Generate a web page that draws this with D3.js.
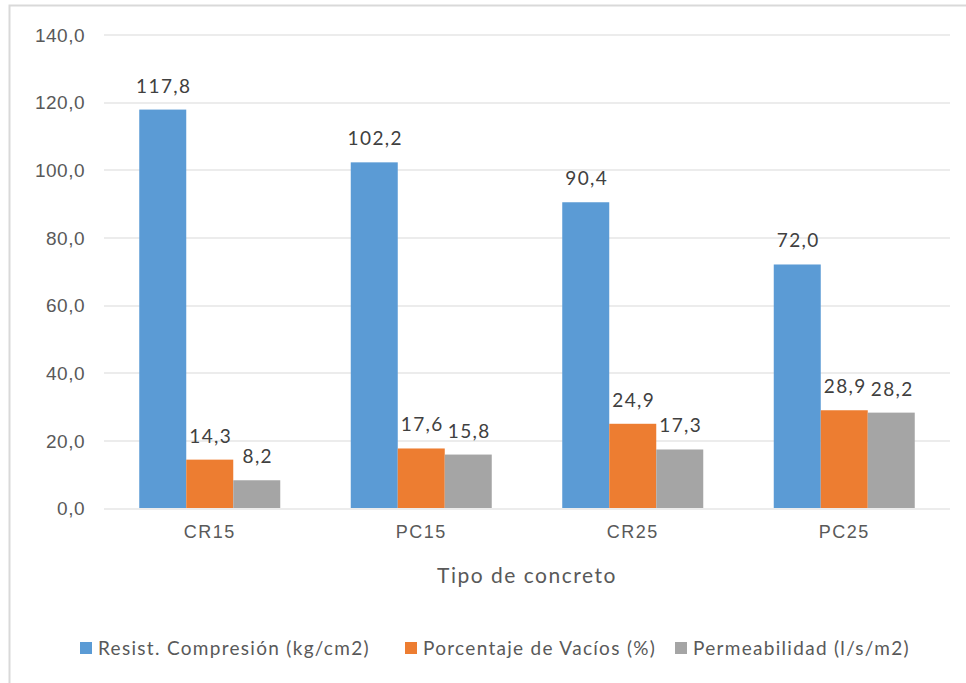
<!DOCTYPE html>
<html lang="es">
  <head>
    <meta charset="utf-8">
    <style type="text/css">
      body { margin: 0; background: #fff; }
      svg { display: block; font-family: Lato, "Open Sans", sans-serif; }
      .grid line { stroke: #d9d9d9; stroke-width: 1px; }
      .label { fill: #404040; }
      .axis text { fill: #595959; }
    </style>
  </head>
  <body>
    <script src="https://cdn.jsdelivr.net/npm/d3@7"></script>
    <svg id="chart"></svg>
    <script type="text/javascript">
var categories = ["CR15", "PC15", "CR25", "PC25"];
var seriesNames = ["Resist. Compresión (kg/cm2)", "Porcentaje de Vacíos (%)", "Permeabilidad (l/s/m2)"];
var resistencia = [117.8, 102.2, 90.4, 72.0];
var vacios = [14.3, 17.6, 24.9, 28.9];
var permeabilidad = [8.2, 15.8, 17.3, 28.2];
var yTicks = [0, 20, 40, 60, 80, 100, 120, 140];
var colors = ["#5b9bd5", "#ed7d31", "#a5a5a5"];

var width = 966, height = 683;
var margin = { top: 34.5, left: 104, right: 16, bottom: 175 };
var innerW = width - margin.left - margin.right;
var innerH = height - margin.top - margin.bottom;

var fmt = function(v) { return d3.format(".1f")(v).replace(".", ","); };

var svg = d3.select("#chart").attr("width", width).attr("height", height);

// cadre du graphique
svg.append("rect")
  .attr("x", 9.5).attr("y", 5.5)
  .attr("width", 1000).attr("height", 700)
  .attr("fill", "none").attr("stroke", "#d9d9d9").attr("stroke-width", 2);

var g = svg.append("g")
  .attr("transform", "translate(" + margin.left + "," + margin.top + ")");

var x = d3.scaleBand().domain(categories).range([0, innerW]).paddingInner(1/3).paddingOuter(1/6);
var xs = d3.scaleBand().domain(d3.range(3)).range([0, x.bandwidth()]);
var y = d3.scaleLinear().domain([0, 140]).range([innerH, 0]);

g.append("g").attr("class", "grid")
  .selectAll("line").data(yTicks).enter().append("line")
  .attr("x1", 0).attr("x2", innerW)
  .attr("y1", function(d) { return Math.round(y(d)) + 0.5; })
  .attr("y2", function(d) { return Math.round(y(d)) + 0.5; });

var yAxis = g.append("g").attr("class", "axis")
  .attr("transform", "translate(-16,0)")
  .call(d3.axisLeft(y).tickValues(yTicks).tickFormat(fmt).tickSize(0));
yAxis.select(".domain").remove();
yAxis.selectAll("text").style("font-size", "19px").style("letter-spacing", "0.5px").attr("dy", "0.35em");

var xAxis = g.append("g").attr("class", "axis")
  .attr("transform", "translate(0," + innerH + ")")
  .call(d3.axisBottom(x).tickSize(0).tickPadding(17));
xAxis.select(".domain").remove();
xAxis.selectAll("text").style("font-size", "18px").style("letter-spacing", "1.5px").attr("dy", "0.71em");

var series = [resistencia, vacios, permeabilidad];
var rows = [];
series.forEach(function(vals, s) {
  vals.forEach(function(v, i) { rows.push({ cat: categories[i], s: s, v: v }); });
});

g.append("g").selectAll("rect").data(rows).enter().append("rect")
  .attr("x", function(d) { return x(d.cat) + xs(d.s); })
  .attr("y", function(d) { return y(d.v); })
  .attr("width", xs.bandwidth())
  .attr("height", function(d) { return innerH - y(d.v); })
  .attr("fill", function(d) { return colors[d.s]; });

g.append("g").selectAll("text").data(rows).enter().append("text")
  .attr("class", "label")
  .attr("x", function(d) { return x(d.cat) + xs(d.s) + xs.bandwidth() / 2 + 1; })
  .attr("y", function(d) { return y(d.v) - 17; })
  .attr("text-anchor", "middle")
  .style("font-size", "19px")
  .style("letter-spacing", "1.4px")
  .text(function(d) { return fmt(d.v); });

svg.append("text")
  .attr("x", margin.left + innerW / 2)
  .attr("y", 583)
  .attr("text-anchor", "middle")
  .attr("fill", "#595959")
  .style("font-size", "21px")
  .style("letter-spacing", "1.5px")
  .text("Tipo de concreto");

var legendX = [80, 405, 675];
var legend = svg.append("g").selectAll("g").data(seriesNames).enter().append("g")
  .attr("transform", function(d, i) { return "translate(" + legendX[i] + ",642)"; });
legend.append("rect")
  .attr("width", 12).attr("height", 12)
  .attr("fill", function(d, i) { return colors[i]; });
legend.append("text")
  .attr("x", 18).attr("y", 13)
  .attr("fill", "#595959")
  .style("font-size", "19px")
  .style("letter-spacing", "1.3px")
  .text(function(d) { return d; });
    </script>
  </body>
</html>
